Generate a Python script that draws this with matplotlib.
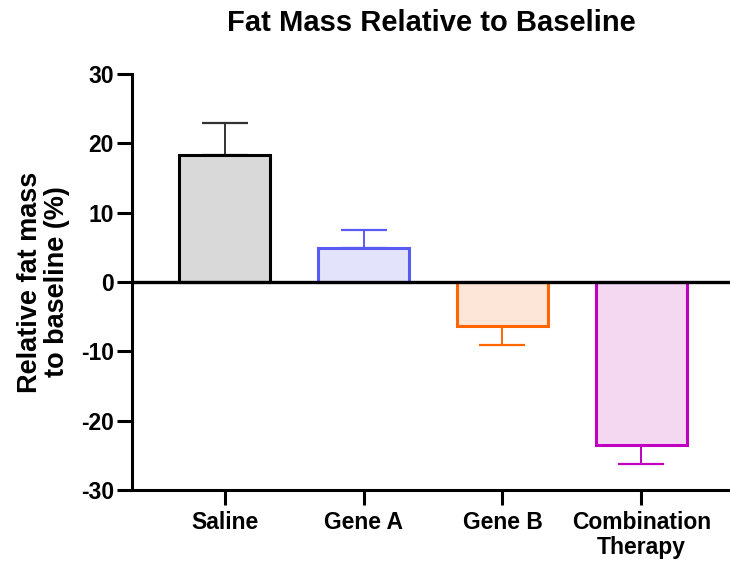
import matplotlib.pyplot as plt

groups = ["Saline", "Gene A", "Gene B", "Combination\nTherapy"]
means = [18.3, 4.9, -6.3, -23.5]
errs = [4.6, 2.6, 2.8, 2.8]
fills = ["#d9d9d9", "#e3e3fb", "#fde5d8", "#f4d8f2"]
edges = ["#000000", "#5a5af5", "#ff6600", "#c000c0"]

plt.rcParams['font.family'] = ['Liberation Sans', 'DejaVu Sans']
plt.rcParams['font.weight'] = 'bold'
plt.rcParams['axes.unicode_minus'] = False

fig = plt.figure(figsize=(7.3, 5.61), dpi=100)
ax = fig.add_axes([0.1808, 0.1266, 0.8192, 0.7415])

x = list(range(len(groups)))
ax.bar(x, means, width=0.656, color=fills, edgecolor=edges, linewidth=2.2, zorder=2)

for i in x:
    if means[i] >= 0:
        yerr = [[0], [errs[i]]]
    else:
        yerr = [[errs[i]], [0]]
    ecol = "#333333" if i == 0 else edges[i]
    ax.errorbar(i, means[i], yerr=yerr, fmt='none', ecolor=ecol,
                elinewidth=1.4, capsize=16.5, capthick=1.6, zorder=1)

ax.axhline(0, color='black', linewidth=2.4, zorder=3)

ax.set_ylim(-30, 30)
ax.set_yticks([-30, -20, -10, 0, 10, 20, 30])
ax.set_xlim(-0.67, 3.64)
ax.set_xticks(x)
ax.set_xticklabels(groups, fontsize=16.5, fontweight='bold', linespacing=1.12)
for lab in ax.get_yticklabels():
    lab.set_fontsize(16.5)
    lab.set_fontweight('bold')

for s in ['top', 'right']:
    ax.spines[s].set_visible(False)
for s in ['left', 'bottom']:
    ax.spines[s].set_linewidth(2.2)
ax.tick_params(axis='y', width=2.2, length=11, pad=2)
ax.tick_params(axis='x', width=2.2, length=11, pad=4)

ax.set_ylabel("Relative fat mass\nto baseline (%)", fontsize=19.5, fontweight='bold',
              labelpad=8, linespacing=1.02)
ax.set_title("Fat Mass Relative to Baseline", fontsize=21, fontweight='bold', pad=31)

fig.savefig("out.png", dpi=100)
